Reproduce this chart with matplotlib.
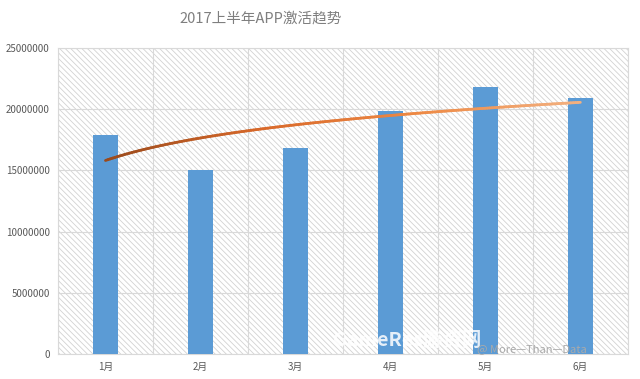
import numpy as np
import matplotlib
matplotlib.use('Agg')
import matplotlib.pyplot as plt
from matplotlib.collections import LineCollection
from matplotlib.colors import LinearSegmentedColormap
from matplotlib.patches import Rectangle

plt.rcParams['font.family'] = ['Noto Sans CJK SC', 'DejaVu Sans']
plt.rcParams['hatch.linewidth'] = 0.6

# data
months = ['1月', '2月', '3月', '4月', '5月', '6月']
activations = [17900000, 15050000, 16800000, 19850000, 21850000, 20900000]
yticks = [0, 5000000, 10000000, 15000000, 20000000, 25000000]

x = np.arange(1, len(months) + 1)

fig = plt.figure(figsize=(6.4, 3.79), dpi=100)
ax = fig.add_axes([0.0906, 0.066, 0.8904, 0.807])

# hatched plot-area background
bg = Rectangle((0, 0), 1, 1, transform=ax.transAxes, facecolor='white',
               edgecolor='#d2d2d2', linewidth=0, hatch='\\' * 6, zorder=0)
ax.add_patch(bg)

ax.bar(x, activations, width=0.27, color='#5B9BD5', zorder=3)

# logarithmic trendline (Excel style) fitted to the bars
b, a = np.polyfit(np.log(x), activations, 1)
xs = np.linspace(1, 6, 200)
ys = a + b * np.log(xs)
pts = np.array([xs, ys]).T.reshape(-1, 1, 2)
segs = np.concatenate([pts[:-1], pts[1:]], axis=1)
cmap = LinearSegmentedColormap.from_list('trend', ['#9a4a1c', '#d9692a', '#ee8a45', '#f2b080'])
lc = LineCollection(segs, cmap=cmap, linewidth=2, zorder=4, capstyle='round')
lc.set_array(np.linspace(0, 1, len(segs)))
ax.add_collection(lc)

ax.set_xlim(0.5, 6.5)
ax.set_ylim(0, 25000000)
ax.set_xticks(x)
ax.set_xticklabels(months)
ax.set_yticks(yticks)
ax.set_yticklabels([str(v) for v in yticks])
ax.set_xticks(np.arange(0.5, 7, 1), minor=True)

ax.grid(axis='y', which='major', color='#d9d9d9', linewidth=0.8, zorder=1)
ax.grid(axis='x', which='minor', color='#d9d9d9', linewidth=0.8, zorder=1)
ax.set_axisbelow(True)
ax.tick_params(which='both', length=0, labelsize=7, colors='#595959', pad=6)
for s in ax.spines.values():
    s.set_color('#d9d9d9')
    s.set_linewidth(0.8)

fig.text(0.408, 0.952, '2017上半年APP激活趋势', ha='center', va='center',
         fontsize=10.5, color='#7f7f7f')

# watermark
fig.text(0.52, 0.085, 'GameRes游资网', fontsize=14, color='white', alpha=0.85,
         fontweight='bold', zorder=10)
fig.text(0.745, 0.07, '@ More\u2014Than\u2014Data', fontsize=8, color='#aaaaaa',
         zorder=11)

fig.savefig('out.png', dpi=100)
